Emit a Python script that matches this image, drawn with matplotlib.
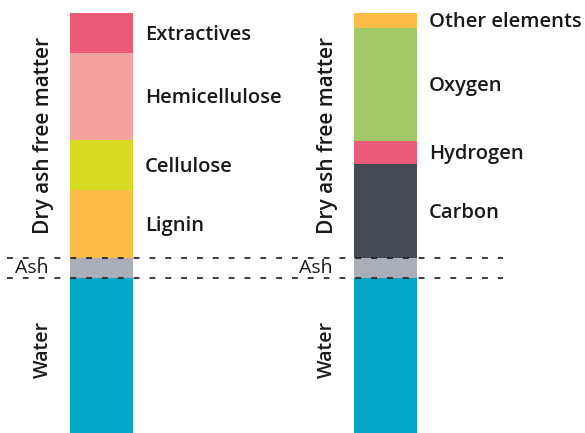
import numpy as np
import matplotlib.pyplot as plt

plt.rcParams['font.family'] = ['Open Sans', 'DejaVu Sans']

# segment heights, bottom to top
base_labels = ['Water', 'Ash']
base_values = [155, 20]
base_colors = ['#00A6C3', '#A9AEB9']

left_labels = ['Lignin', 'Cellulose', 'Hemicellulose', 'Extractives']
left_values = [68, 50, 87, 40]
left_colors = ['#FBBC48', '#D9DB22', '#F4A3A0', '#EB5A78']

right_labels = ['Carbon', 'Hydrogen', 'Oxygen', 'Other elements']
right_values = [94, 23, 113, 15]
right_colors = ['#434A54', '#EB5A78', '#A1C96A', '#FBBC48']

fig = plt.figure(figsize=(5.85, 4.33), dpi=100)
ax = fig.add_axes([0, 0, 1, 1])
ax.set_xlim(0, 585)
ax.set_ylim(0, 433)
ax.axis('off')

bar_w = 63
centers = [101.5, 385.5]


def draw_column(xc, labels, values, colors):
    bottom = 0
    for v, c in zip(base_values, base_colors):
        ax.bar(xc, v, bottom=bottom, width=bar_w, color=c, linewidth=0)
        bottom += v
    daf_start = bottom
    for lab, v, c in zip(labels, values, colors):
        ax.bar(xc, v, bottom=bottom, width=bar_w, color=c, linewidth=0)
        ax.text(xc + bar_w / 2 + 12, bottom + v / 2 + 1, lab, fontsize=14.5,
                fontweight='semibold', va='center_baseline', ha='left',
                color='#1a1a1a')
        bottom += v
    # side labels
    ax.text(xc - 59, base_values[0] / 2 + 6, 'Water', rotation=90, fontsize=14,
            fontweight='semibold', ha='center', va='center', color='#1a1a1a')
    ax.text(xc - 58, daf_start + (bottom - daf_start) / 2, 'Dry ash free matter',
            rotation=90, fontsize=15, fontweight='semibold', ha='center',
            va='center', color='#1a1a1a')
    ax.text(xc - 70, base_values[0] + base_values[1] / 2, 'Ash', fontsize=14,
            ha='center', va='center', color='#1a1a1a')


draw_column(centers[0], left_labels, left_values, left_colors)
draw_column(centers[1], right_labels, right_values, right_colors)

for yl in [base_values[0], base_values[0] + base_values[1]]:
    ax.plot([7, 503], [yl, yl], color='#1a1a1a', linestyle=(0, (3.5, 6)),
            linewidth=1.2, zorder=5)

fig.savefig('out.png', dpi=100)
